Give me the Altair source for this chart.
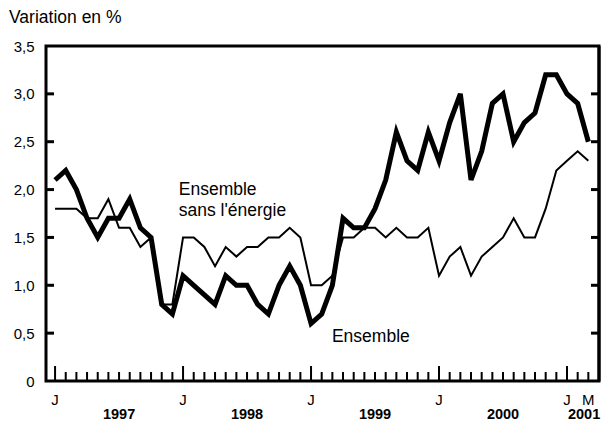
import altair as alt
import pandas as pd

# Monthly data, Jan 1997 .. Mar 2001 (month index 0..50)
ensemble = [2.1, 2.2, 2.0, 1.7, 1.5, 1.7, 1.7, 1.9, 1.6, 1.5, 0.8, 0.7,
            1.1, 1.0, 0.9, 0.8, 1.1, 1.0, 1.0, 0.8, 0.7, 1.0, 1.2, 1.0,
            0.6, 0.7, 1.0, 1.7, 1.6, 1.6, 1.8, 2.1, 2.6, 2.3, 2.2, 2.6,
            2.3, 2.7, 3.0, 2.1, 2.4, 2.9, 3.0, 2.5, 2.7, 2.8, 3.2, 3.2,
            3.0, 2.9, 2.5]
sans_energie = [1.8, 1.8, 1.8, 1.7, 1.7, 1.9, 1.6, 1.6, 1.4, 1.5, 0.8, 0.8,
                1.5, 1.5, 1.4, 1.2, 1.4, 1.3, 1.4, 1.4, 1.5, 1.5, 1.6, 1.5,
                1.0, 1.0, 1.1, 1.5, 1.5, 1.6, 1.6, 1.5, 1.6, 1.5, 1.5, 1.6,
                1.1, 1.3, 1.4, 1.1, 1.3, 1.4, 1.5, 1.7, 1.5, 1.5, 1.8, 2.2,
                2.3, 2.4, 2.3]
months = list(range(len(ensemble)))

y_ticks = [0.5, 1.0, 1.5, 2.0, 2.5, 3.0]
y_labels = [0, 0.5, 1.0, 1.5, 2.0, 2.5, 3.0, 3.5]

month_labels = ["J", "J", "J", "J", "J", "M"]
month_label_pos = [0, 12, 24, 36, 48, 50]
year_labels = ["1997", "1998", "1999", "2000", "2001"]
year_label_pos = [6, 18, 30, 42, 49.6]

W, H = 553, 335
FONT = "Liberation Sans"

xs = alt.Scale(domain=[-0.85, 51.0], nice=False, zero=False)
ys = alt.Scale(domain=[0, 3.5], nice=False, zero=False)

df = pd.DataFrame({"m": months, "ens": ensemble, "sans": sans_energie})

base = alt.Chart(df)

thin = base.mark_line(color="black", strokeWidth=2, strokeJoin="miter").encode(
    x=alt.X("m:Q", scale=xs, axis=None),
    y=alt.Y("sans:Q", scale=ys,
            axis=alt.Axis(values=y_labels, domain=False, ticks=False, grid=False,
                          labelFont=FONT, labelFontSize=15, labelColor="black",
                          labelPadding=12,
                          labelExpr="datum.value == 0 ? '0' : replace(format(datum.value, '.1f'), '.', ',')"),
            title=None),
)
thick = base.mark_line(color="black", strokeWidth=5, strokeJoin="miter").encode(
    x=alt.X("m:Q", scale=xs), y=alt.Y("ens:Q", scale=ys)
)

# explicit right border of the frame
rborder = alt.Chart(pd.DataFrame({"v": [0]})).mark_rule(color="black", strokeWidth=3).encode(
    x=alt.value(W), y=alt.value(0), y2=alt.value(H))

# inner ticks on left/right axes
tdf = pd.DataFrame({"v": y_ticks})
lticks = alt.Chart(tdf).mark_rule(color="black", strokeWidth=3).encode(
    y=alt.Y("v:Q", scale=ys), x=alt.value(0), x2=alt.value(8))
rticks = alt.Chart(tdf).mark_rule(color="black", strokeWidth=3).encode(
    y=alt.Y("v:Q", scale=ys), x=alt.value(W - 8), x2=alt.value(W))

# bottom month ticks
mdf = pd.DataFrame({"m": months, "major": [m % 12 == 0 for m in months]})
minor = alt.Chart(mdf).transform_filter("!datum.major").mark_rule(color="black", strokeWidth=2).encode(
    x=alt.X("m:Q", scale=xs), y=alt.value(H), y2=alt.value(H - 9))
major = alt.Chart(mdf).transform_filter("datum.major").mark_rule(color="black", strokeWidth=2).encode(
    x=alt.X("m:Q", scale=xs), y=alt.value(H), y2=alt.value(H - 15))

mlab = alt.Chart(pd.DataFrame({"m": month_label_pos, "t": month_labels})).mark_text(
    font=FONT, fontSize=15, color="black", baseline="middle", align="center").encode(
    x=alt.X("m:Q", scale=xs), y=alt.value(H + 19), text="t:N")
ylab = alt.Chart(pd.DataFrame({"m": year_label_pos, "t": year_labels})).mark_text(
    font=FONT, fontSize=14.5, fontWeight="bold", color="black", baseline="middle", align="center").encode(
    x=alt.X("m:Q", scale=xs), y=alt.value(H + 34), text="t:N")

ann1 = alt.Chart(pd.DataFrame({"m": [11.6], "v": [1.94], "t": [["Ensemble", "sans l'énergie"]]})).mark_text(
    font=FONT, fontSize=17.5, color="black", align="left", baseline="alphabetic", lineHeight=21).encode(
    x=alt.X("m:Q", scale=xs), y=alt.Y("v:Q", scale=ys), text="t")
ann2 = alt.Chart(pd.DataFrame({"m": [25.96], "v": [0.405], "t": ["Ensemble"]})).mark_text(
    font=FONT, fontSize=17.5, color="black", align="left", baseline="alphabetic").encode(
    x=alt.X("m:Q", scale=xs), y=alt.Y("v:Q", scale=ys), text="t:N")

ytitle = alt.Chart(pd.DataFrame({"t": ["Variation en %"]})).mark_text(
    font=FONT, fontSize=17.5, color="black", align="left", baseline="middle").encode(
    x=alt.value(-37), y=alt.value(-28), text="t:N")

chart = alt.layer(thin, thick, rborder, lticks, rticks, minor, major, mlab, ylab, ann1, ann2, ytitle).properties(
    width=W, height=H,
    autosize=alt.AutoSizeParams(type="none"),
    padding={"left": 38, "top": 38, "right": 4, "bottom": 42},
).configure_view(stroke="black", strokeWidth=3)

chart.save("out.html", embed_options={"renderer": "svg", "actions": False})
